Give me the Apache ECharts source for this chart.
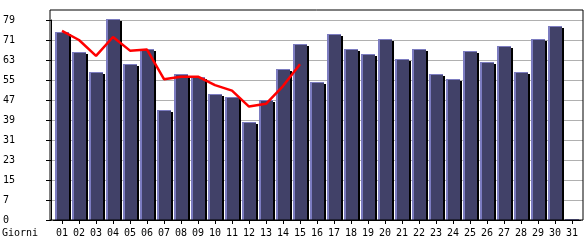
<!DOCTYPE html>
<html>
<head>
<meta charset="utf-8">
<script src="https://cdn.jsdelivr.net/npm/echarts@6/dist/echarts.min.js"></script>
<style>html,body{margin:0;padding:0;background:#fff}#c{width:585px;height:240px}</style>
</head>
<body>
<div id="c"></div>
<script>
var days = ['01','02','03','04','05','06','07','08','09','10','11','12','13','14','15','16','17','18','19','20','21','22','23','24','25','26','27','28','29','30','31'];
var visits = [74.4, 66.5, 58.3, 79.3, 61.5, 67.4, 43.3, 57.5, 56.4, 49.6, 48.5, 38.7, 47.3, 59.5, 69.4, 54.4, 73.3, 67.4, 65.4, 71.4, 63.5, 67.4, 57.5, 55.6, 66.6, 62.4, 68.6, 58.3, 71.4, 76.5, 0.4];
var trend = [74.7, 71.1, 64.8, 72.3, 66.9, 67.3, 55.6, 56.6, 56.6, 53.3, 51.1, 44.8, 45.9, 52.9, 61.5, null, null, null, null, null, null, null, null, null, null, null, null, null, null, null, null];
var yMax = 79, yStep = 7.9;
var xTitle = 'Giorni';

var FONT = 'DejaVu Sans Mono';
var chart = echarts.init(document.getElementById('c'), null, {renderer: 'canvas'});

function renderBar(params, api) {
  var v = api.value(1);
  var top = api.coord([api.value(0), v]);
  var base = api.coord([api.value(0), 0]);
  var w = 14;
  var left = Math.round(top[0]) - 7;
  var y0 = Math.round(top[1]);
  var h = Math.round(base[1]) - y0;
  if (h < 1) h = 1;
  var children = [];
  if (h > 2) {
    children.push({type: 'rect', shape: {x: left + 2, y: y0 + 2, width: w, height: h - 2}, style: {fill: '#000000'}});
  }
  children.push({type: 'rect', shape: {x: left, y: y0, width: w, height: h}, style: {fill: '#7c7cc0'}});
  if (h > 1) {
    children.push({type: 'rect', shape: {x: left + 2, y: y0 + 1, width: w - 2, height: h - 1}, style: {fill: '#414168'}});
  }
  return {type: 'group', children: children};
}

chart.setOption({
  animation: false,
  backgroundColor: '#ffffff',
  title: {text: xTitle, left: 2, top: 228, padding: 0, textStyle: {fontFamily: FONT, fontSize: 10, fontWeight: 'normal', color: '#000'}},
  grid: [
    {left: 50, right: 2, top: 10, bottom: 20, show: true, borderColor: '#000', borderWidth: 1, backgroundColor: 'transparent', z: 5},
    {left: 50, right: 2, top: 20, bottom: 20},
    {left: 53.5, right: 4.5, top: 20, bottom: 20}
  ],
  xAxis: [
    {gridIndex: 1, type: 'value', show: false, min: 0, max: 1},
    {gridIndex: 2, type: 'category', data: days, boundaryGap: true,
      axisLine: {show: true, lineStyle: {color: '#000'}},
      axisTick: {show: true, alignWithLabel: true, length: 4, lineStyle: {color: '#000'}},
      axisLabel: {interval: 0, margin: 8, fontFamily: FONT, fontSize: 10, color: '#000'},
      splitLine: {show: false}}
  ],
  yAxis: [
    {gridIndex: 1, type: 'value', min: 0, max: yMax, interval: yStep,
      axisLine: {show: true, lineStyle: {color: '#000'}},
      axisTick: {show: true, length: 5, lineStyle: {color: '#000'}},
      axisLabel: {align: 'left', margin: 48, fontFamily: FONT, fontSize: 10, color: '#000',
        formatter: function (v) { return String(Math.floor(v + 1e-6)); }},
      splitLine: {show: true, lineStyle: {color: '#b0b0b0', width: 1}}},
    {gridIndex: 2, type: 'value', min: 0, max: yMax, show: false, splitLine: {show: false}}
  ],
  series: [
    {type: 'custom', xAxisIndex: 1, yAxisIndex: 1, renderItem: renderBar, encode: {x: 0, y: 1},
      data: visits.map(function (v, i) { return [i, v]; }), z: 2},
    {type: 'line', xAxisIndex: 1, yAxisIndex: 1, data: trend, showSymbol: false, symbol: 'none',
      lineStyle: {color: '#ff0000', width: 2.5}, connectNulls: false, z: 4}
  ]
});
</script>
</body>
</html>
